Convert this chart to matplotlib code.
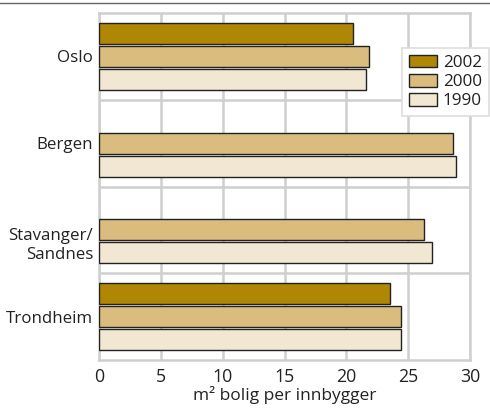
import numpy as np
import matplotlib
matplotlib.use("Agg")
import matplotlib.pyplot as plt
from matplotlib.lines import Line2D
from matplotlib.transforms import ScaledTranslation

plt.rcParams['font.family'] = ['Open Sans', 'DejaVu Sans']

cities = ["Oslo", "Bergen", "Stavanger/\nSandnes", "Trondheim"]
years = ["2002", "2000", "1990"]
v2002 = [20.5, np.nan, np.nan, 23.5]
v2000 = [21.8, 28.6, 26.3, 24.4]
v1990 = [21.6, 28.9, 26.9, 24.4]
xticks = [0, 5, 10, 15, 20, 25, 30]
xlabel = "m² bolig per innbygger"

colors = ["#B08605", "#D9BC7E", "#F1E7D2"]
grid_c = "#cfcfcf"
text_c = "#222222"

fig = plt.figure(figsize=(4.90, 4.13), dpi=100)
ax = fig.add_axes([99 / 490, 1 - 360 / 413, 371 / 490, 347 / 413])

y = np.arange(len(cities))
step = 0.265
h = 0.24
for i, (vals, lab) in enumerate(zip([v2002, v2000, v1990], years)):
    ax.barh(y + (i - 1) * step, vals, height=h, color=colors[i],
            edgecolor="#222222", linewidth=1.0, label=lab, zorder=3)

ax.set_xlim(0, 30)
ax.set_ylim(3.5, -0.5)
ax.set_xticks(xticks)
ax.set_xticklabels([str(t) for t in xticks], fontsize=12.8, color=text_c)
ax.set_yticks(y)
ax.set_yticklabels(cities, fontsize=12.2, color=text_c, linespacing=1.3)
ax.set_yticks(np.arange(0.5, len(cities) - 1, 1), minor=True)
ax.tick_params(axis="both", which="both", length=0)
ax.tick_params(axis="x", pad=6)
ax.tick_params(axis="y", pad=4.3)
ax.grid(axis="x", which="major", color=grid_c, linewidth=1.8, zorder=0)
ax.grid(axis="y", which="minor", color=grid_c, linewidth=1.8, zorder=0)
for s in ax.spines.values():
    s.set_color(grid_c)
    s.set_linewidth(1.8)
ax.set_xlabel(xlabel, fontsize=12.5, color=text_c, labelpad=0)

# Two-line city label hangs below its row centre
for lbl in ax.get_yticklabels():
    if "\n" in lbl.get_text():
        lbl.set_transform(lbl.get_transform() +
                          ScaledTranslation(0, -12 / 100, fig.dpi_scale_trans))

# Thin rule across the top of the figure
fig.add_artist(Line2D([0, 1], [1 - 2.5 / 413, 1 - 2.5 / 413],
                      transform=fig.transFigure, color="#666666", linewidth=1.0))

leg = fig.legend(loc="upper left", bbox_to_anchor=(402 / 490, 1 - 48 / 413),
                 fontsize=12.3, frameon=True, fancybox=False, framealpha=1,
                 edgecolor="#dddddd", handlelength=1.64, handleheight=0.76,
                 handletextpad=0.35, labelspacing=0.17, borderpad=0.4,
                 borderaxespad=0)
leg.get_frame().set_linewidth(1.2)
for t in leg.get_texts():
    t.set_color(text_c)

fig.savefig("out.png", dpi=100)
